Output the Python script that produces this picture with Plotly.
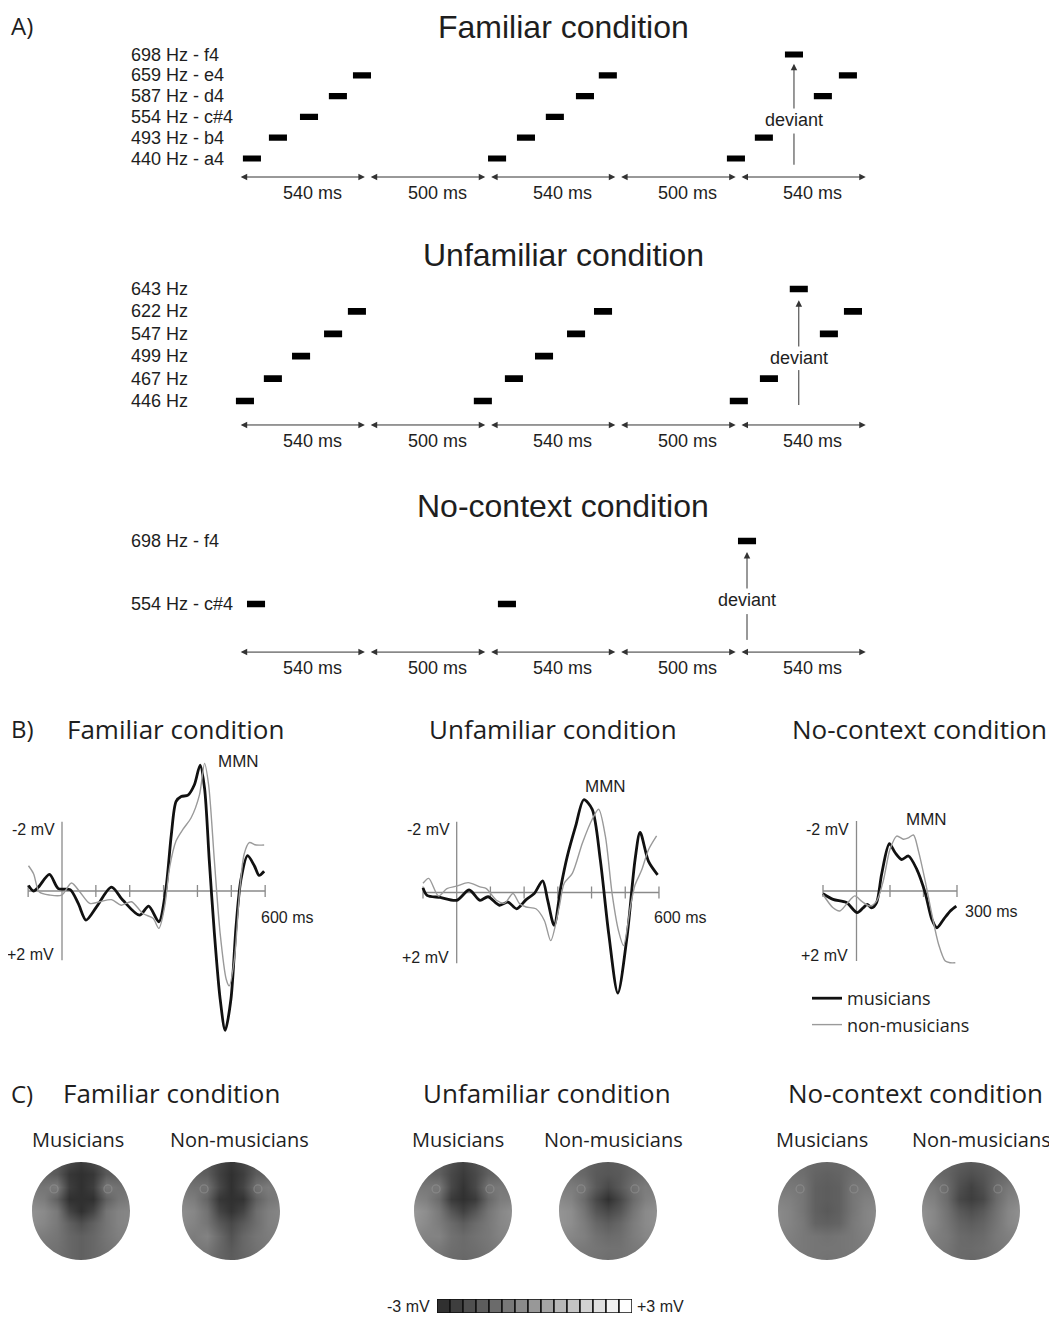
import plotly.graph_objects as go

W, H = 1057, 1318
OFF = 8                      # page body margin of the written html
FW, FH = W - OFF, H - OFF    # figure size so that pixel positions match the window

# ======================= DATA =======================
# ---- Part A: stimulus sequences
SEGMENT_MS = [540, 500, 540, 500, 540]
SEGMENT_LABELS = ["540 ms", "500 ms", "540 ms", "500 ms", "540 ms"]

FAM_ROW_IDS = [0, 1, 2, 3, 4, 5]
FAM_ROW_LABELS = ["440 Hz - a4", "493 Hz - b4", "554 Hz - c#4", "587 Hz - d4", "659 Hz - e4", "698 Hz - f4"]
FAM_TONE_MS = [62, 170, 299, 419, 519, 1080, 1200, 1320, 1445, 1540, 2072, 2188, 2313, 2433, 2537]
FAM_TONE_ROW = [0, 1, 2, 3, 4, 0, 1, 2, 3, 4, 0, 1, 5, 3, 4]
FAM_DEVIANT = 12

UNF_ROW_IDS = [0, 1, 2, 3, 4, 5]
UNF_ROW_LABELS = ["446 Hz", "467 Hz", "499 Hz", "547 Hz", "622 Hz", "643 Hz"]
UNF_TONE_MS = [33, 149, 266, 399, 498, 1021, 1150, 1275, 1408, 1520, 2084, 2209, 2333, 2458, 2558]
UNF_TONE_ROW = [0, 1, 2, 3, 4, 0, 1, 2, 3, 4, 0, 1, 5, 3, 4]
UNF_DEVIANT = 12

NOC_ROW_IDS = [2, 5]
NOC_ROW_LABELS = ["554 Hz - c#4", "698 Hz - f4"]
NOC_TONE_MS = [79, 1121, 2118]
NOC_TONE_ROW = [2, 2, 5]
NOC_DEVIANT = 2

# ---- Part B: ERP difference waves (time in ms, amplitude in mV, negative up)
FAM_MUS_T = [-99, -84, -70, -37, -11, 24, 48, 71, 102, 146, 180, 229, 256, 286, 306, 323, 337, 352,
             372, 391, 408, 421, 435, 450, 467, 482, 499, 514, 528, 548, 568, 582, 597]
FAM_MUS_V = [-0.16, 0.0, -0.11, -0.48, -0.07, -0.04, 0.36, 0.84, 0.46, -0.11, 0.27, 0.70, 0.44, 0.89,
             0.0, -1.64, -2.59, -2.73, -2.77, -3.07, -3.64, -2.97, -0.88, 1.22, 3.12, 4.03, 3.12, 1.03,
             -0.30, -1.02, -0.73, -0.45, -0.57]
FAM_NON_T = [-99, -84, -67, -35, -1, 28, 53, 82, 112, 146, 175, 205, 239, 269, 286, 303, 318, 337, 357,
             381, 406, 421, 433, 450, 467, 485, 494, 509, 524, 538, 553, 573, 597]
FAM_NON_V = [-0.73, -0.50, 0.03, 0.12, 0.12, -0.23, 0.03, 0.36, 0.31, 0.25, 0.41, 0.31, 0.65, 0.79, 1.08,
             0.46, -0.69, -1.45, -1.78, -2.11, -2.78, -3.69, -3.07, -0.88, 1.22, 2.55, 2.74, 1.98, 0.08,
             -1.07, -1.40, -1.33, -1.33]

UNF_MUS_T = [-100, -88, -49, 0, 37, 69, 93, 127, 152, 178, 206, 230, 255, 270, 289, 309, 328, 353, 377,
             402, 426, 451, 478, 505, 529, 544, 569, 596]
UNF_MUS_V = [-0.13, 0.08, 0.14, 0.22, -0.07, 0.22, 0.12, 0.36, 0.27, 0.46, 0.20, 0.03, -0.33, 0.22, 0.93,
             -0.16, -1.02, -1.88, -2.62, -2.35, -0.92, 1.17, 2.84, 1.27, -0.92, -1.70, -0.88, -0.50]
UNF_NON_T = [-100, -83, -54, -29, 0, 34, 69, 88, 118, 142, 167, 186, 206, 235, 260, 279, 304, 319, 343,
             373, 402, 421, 441, 461, 480, 495, 515, 529, 549, 569, 593]
UNF_NON_V = [-0.26, -0.40, 0.10, -0.11, -0.18, -0.28, -0.16, -0.11, 0.22, 0.30, 0.03, 0.31, 0.41, 0.46,
             0.79, 1.36, 0.41, -0.26, -0.54, -1.40, -2.07, -2.35, -1.59, 0.03, 1.08, 1.50, 0.41, -0.21,
             -0.64, -1.21, -1.60]

NOC_MUS_T = [-100, -70, -30, 2, 20, 32, 45, 60, 75, 98, 115, 135, 155, 180, 205, 225, 240, 260, 280, 298]
NOC_MUS_V = [0.08, 0.24, 0.33, 0.62, 0.48, 0.38, 0.48, 0.33, -0.48, -1.35, -1.10, -0.90, -1.00, -0.62,
             0.05, 0.81, 1.05, 0.81, 0.57, 0.43]
NOC_NON_T = [-100, -70, -50, -30, -5, 15, 40, 60, 80, 100, 120, 140, 155, 170, 185, 205, 225, 245, 265,
             280, 295]
NOC_NON_V = [0.10, 0.48, 0.57, 0.38, 0.14, 0.29, 0.43, 0.29, -0.29, -1.19, -1.57, -1.48, -1.52, -1.60,
             -1.14, -0.29, 0.67, 1.52, 2.00, 2.05, 2.05]

# ---- Part C: scalp maps (mV), 9x9 grids, rows top (frontal) -> bottom
GRID_POS = [-1.0, -0.75, -0.5, -0.25, 0.0, 0.25, 0.5, 0.75, 1.0]
TOPO_FAM_MUS = [
    [-1.7, -1.7, -1.8, -2.3, -2.7, -2.3, -1.8, -1.7, -1.7],
    [-1.5, -1.5, -1.8, -2.8, -3.0, -2.8, -1.8, -1.6, -1.6],
    [-1.0, -1.0, -0.8, -2.6, -3.0, -2.6, -0.9, -1.1, -1.2],
    [-0.6, -0.8, -1.6, -3.0, -3.0, -3.0, -1.6, -1.0, -0.8],
    [-0.2, -0.4, -0.9, -2.4, -3.0, -2.4, -1.0, -0.6, -0.5],
    [-0.3, -0.5, -0.9, -1.6, -2.1, -1.6, -1.0, -0.6, -0.5],
    [-0.7, -0.8, -1.0, -1.4, -1.6, -1.4, -1.0, -0.7, -0.7],
    [-0.9, -1.0, -1.1, -1.4, -1.6, -1.4, -1.1, -0.9, -0.9],
    [-1.1, -1.1, -1.2, -1.4, -1.6, -1.4, -1.2, -1.1, -1.1]]
TOPO_FAM_NON = [
    [-1.7, -1.7, -1.9, -2.4, -2.8, -2.4, -1.9, -1.7, -1.7],
    [-1.5, -1.5, -1.7, -2.5, -3.0, -2.6, -1.7, -1.5, -1.5],
    [-1.0, -1.1, -1.1, -2.3, -3.0, -2.4, -1.1, -0.8, -1.1],
    [-0.6, -0.8, -1.5, -2.8, -3.0, -2.9, -1.6, -1.0, -0.8],
    [-0.3, -0.5, -1.1, -2.4, -2.9, -2.4, -1.2, -0.7, -0.5],
    [-0.4, -0.6, -1.0, -1.8, -2.3, -1.8, -1.2, -0.7, -0.6],
    [-0.7, -0.8, -0.6, -1.3, -2.0, -1.4, -1.0, -0.8, -0.7],
    [-0.9, -0.9, -0.9, -1.4, -1.8, -1.4, -1.1, -0.9, -0.9],
    [-1.1, -1.1, -1.2, -1.5, -1.7, -1.5, -1.2, -1.1, -1.1]]
TOPO_UNF_MUS = [
    [-1.6, -1.6, -1.7, -2.1, -2.5, -2.1, -1.7, -1.6, -1.6],
    [-1.4, -1.4, -1.6, -2.3, -2.7, -2.3, -1.6, -1.4, -1.4],
    [-0.9, -0.9, -0.9, -2.3, -2.9, -2.3, -1.0, -0.9, -1.0],
    [-0.5, -0.7, -1.3, -2.7, -3.0, -2.7, -1.4, -0.8, -0.7],
    [0.0, -0.3, -0.9, -1.9, -2.5, -1.9, -1.0, -0.5, -0.2],
    [-0.1, -0.4, -0.8, -1.3, -1.7, -1.3, -0.9, -0.5, -0.3],
    [-0.5, -0.6, -0.6, -1.1, -1.3, -1.1, -0.9, -0.6, -0.5],
    [-0.8, -0.8, -0.9, -1.2, -1.3, -1.2, -1.0, -0.8, -0.8],
    [-1.0, -1.0, -1.1, -1.3, -1.4, -1.3, -1.1, -1.0, -1.0]]
TOPO_UNF_NON = [
    [-1.4, -1.4, -1.5, -1.7, -1.8, -1.7, -1.5, -1.4, -1.4],
    [-1.2, -1.2, -1.4, -1.8, -1.9, -1.8, -1.4, -1.2, -1.2],
    [-0.8, -0.8, -1.0, -1.8, -2.3, -1.8, -1.1, -0.8, -0.9],
    [-0.4, -0.6, -1.3, -2.3, -3.0, -2.3, -1.3, -0.7, -0.5],
    [-0.1, -0.3, -1.0, -1.9, -2.3, -1.9, -1.0, -0.4, -0.2],
    [-0.1, -0.3, -0.8, -1.4, -1.7, -1.4, -0.8, -0.4, -0.2],
    [-0.4, -0.5, -0.7, -1.1, -1.3, -1.2, -0.8, -0.5, -0.4],
    [-0.7, -0.8, -0.9, -1.0, -1.1, -1.1, -0.9, -0.8, -0.7],
    [-0.9, -0.9, -1.0, -1.1, -1.2, -1.1, -1.0, -0.9, -0.9]]
TOPO_NOC_MUS = [
    [-1.2, -1.2, -1.3, -1.4, -1.4, -1.4, -1.3, -1.2, -1.2],
    [-1.1, -1.1, -1.2, -1.5, -1.6, -1.5, -1.2, -1.1, -1.1],
    [-0.9, -0.9, -1.0, -1.6, -1.7, -1.6, -1.0, -0.9, -0.9],
    [-0.6, -0.7, -1.0, -1.6, -1.7, -1.6, -1.0, -0.7, -0.6],
    [-0.4, -0.6, -1.0, -1.6, -1.8, -1.6, -1.0, -0.6, -0.4],
    [-0.4, -0.6, -0.9, -1.5, -1.6, -1.5, -0.9, -0.6, -0.4],
    [-0.6, -0.7, -0.9, -1.0, -1.1, -1.0, -0.9, -0.7, -0.6],
    [-0.8, -0.8, -0.9, -1.0, -1.0, -1.0, -0.9, -0.8, -0.8],
    [-0.9, -0.9, -1.0, -1.0, -1.1, -1.0, -1.0, -0.9, -0.9]]
TOPO_NOC_NON = [
    [-1.4, -1.4, -1.5, -1.7, -1.8, -1.7, -1.5, -1.4, -1.4],
    [-1.2, -1.3, -1.5, -1.9, -2.1, -1.9, -1.5, -1.3, -1.2],
    [-0.8, -0.9, -1.3, -2.1, -2.5, -2.1, -1.3, -0.9, -0.8],
    [-0.5, -0.7, -1.3, -2.3, -2.6, -2.3, -1.3, -0.7, -0.5],
    [-0.2, -0.5, -1.1, -1.8, -2.1, -1.8, -1.1, -0.5, -0.2],
    [-0.2, -0.5, -1.0, -1.5, -1.7, -1.5, -1.0, -0.5, -0.3],
    [-0.5, -0.7, -0.9, -1.3, -1.4, -1.3, -0.9, -0.7, -0.6],
    [-0.8, -0.8, -1.0, -1.3, -1.3, -1.2, -1.0, -0.8, -0.8],
    [-1.0, -1.0, -1.1, -1.3, -1.4, -1.3, -1.1, -1.0, -1.0]]
ELECTRODE_X = [-0.55, 0.55]
ELECTRODE_Y = [0.45, 0.45]

CB_LEVELS_MV = [-3.0, -2.6, -2.1, -1.7, -1.3, -0.9, -0.4, 0.0, 0.4, 0.9, 1.3, 1.7, 2.1, 2.6, 3.0]

# ======================= STYLE / LAYOUT =======================
ARIAL = "Liberation Sans, Arial, sans-serif"
OPEN = "Open Sans, sans-serif"
TXT = "#1e1e1e"
TONE_LEN_MS = 75
GRAY_LO, GRAY_HI = 48, 255


def gray(v):
    g = int(round(GRAY_LO + (v + 3.0) / 6.0 * (GRAY_HI - GRAY_LO)))
    g = max(0, min(255, g))
    return f"rgb({g},{g},{g})"


COLORSCALE = [[0.0, gray(-3.0)], [1.0, gray(3.0)]]

fig = go.Figure()
annos = []
shapes = []
_n = [0]


def px_x(px):
    return (px - OFF) / FW


def px_y(py):
    return 1 - (py - OFF) / FH


def xdom(l, r):
    return [max(0, px_x(l)), min(1, px_x(r))]


def ydom(top, bottom):
    return [max(0, px_y(bottom)), min(1, px_y(top))]


def new_axes(xd, yd, xr, yr):
    _n[0] += 1
    k = _n[0]
    s = "" if k == 1 else str(k)
    fig.layout["xaxis" + s] = dict(domain=xd, range=xr, visible=False, anchor="y" + s, fixedrange=True)
    fig.layout["yaxis" + s] = dict(domain=yd, range=yr, visible=False, anchor="x" + s, fixedrange=True)
    return "x" + s, "y" + s


def paper_text(text, xpx, ypx, size, family, xanchor="center", color=TXT, yanchor="middle"):
    annos.append(dict(text=text, x=px_x(xpx), y=px_y(ypx), xref="paper", yref="paper",
                      xanchor=xanchor, yanchor=yanchor, showarrow=False, borderpad=0,
                      font=dict(size=size, family=family, color=color)))


# ---------- Part A ----------
paper_text("A)", 10, 8, 24, OPEN, xanchor="left", yanchor="top")
SCH_X0_PX, SCH_PX_PER_MS = 237.0, 0.2408
SCH_XR = [-50, 2670]
sch_panels = [
    dict(title="Familiar condition", title_y=22, row0=158.5, sp=20.8, yr=[-2.0, 6.0],
         ids=FAM_ROW_IDS, labels=FAM_ROW_LABELS, t=FAM_TONE_MS, r=FAM_TONE_ROW, dev=FAM_DEVIANT,
         arrow_row=-0.89, dev_text=1.85, dev_low=(-0.3, 1.2), dev_tip=4.55),
    dict(title="Unfamiliar condition", title_y=255, row0=401.0, sp=22.4, yr=[-2.0, 6.0],
         ids=UNF_ROW_IDS, labels=UNF_ROW_LABELS, t=UNF_TONE_MS, r=UNF_TONE_ROW, dev=UNF_DEVIANT,
         arrow_row=-1.07, dev_text=1.92, dev_low=(-0.18, 1.38), dev_tip=4.5),
    dict(title="No-context condition", title_y=506, row0=646.0, sp=21.0, yr=[-1.5, 6.0],
         ids=NOC_ROW_IDS, labels=NOC_ROW_LABELS, t=NOC_TONE_MS, r=NOC_TONE_ROW, dev=NOC_DEVIANT,
         arrow_row=-0.29, dev_text=2.19, dev_low=(0.29, 1.52), dev_tip=4.48),
]
bounds = [0]
for s in SEGMENT_MS:
    bounds.append(bounds[-1] + s)

for pi, p in enumerate(sch_panels):
    xd = xdom(SCH_X0_PX + SCH_XR[0] * SCH_PX_PER_MS, SCH_X0_PX + SCH_XR[1] * SCH_PX_PER_MS)
    yd = ydom(p["row0"] - p["yr"][1] * p["sp"], p["row0"] - p["yr"][0] * p["sp"])
    xa, ya = new_axes(xd, yd, SCH_XR, p["yr"])
    if pi == 0:
        paper_text(p["title"], 563, 8, 32, ARIAL, yanchor="top")
    else:
        paper_text(p["title"], 563, p["title_y"], 32, ARIAL)
    fig.add_trace(go.Bar(orientation="h", y=p["r"], x=[TONE_LEN_MS] * len(p["t"]),
                         base=[t - TONE_LEN_MS / 2 for t in p["t"]], width=0.3,
                         marker=dict(color="black", line=dict(width=0)),
                         xaxis=xa, yaxis=ya, showlegend=False, hoverinfo="skip"))
    for rid, lab in zip(p["ids"], p["labels"]):
        annos.append(dict(text=lab, x=px_x(129), xref="paper", y=rid, yref=ya, xanchor="left",
                          yanchor="middle", showarrow=False,
                          font=dict(size=18, family=ARIAL, color=TXT)))
    ar = p["arrow_row"]
    for i, lab in enumerate(SEGMENT_LABELS):
        s0, s1 = bounds[i], bounds[i + 1]
        annos.append(dict(text="", x=s1 - 9, y=ar, ax=s0 + 9, ay=ar, xref=xa, yref=ya, axref=xa,
                          ayref=ya, showarrow=True, arrowside="end+start", arrowhead=2,
                          arrowsize=1.3, arrowwidth=1, arrowcolor="#333"))
        annos.append(dict(text=lab, x=(s0 + s1) / 2, y=ar, xref=xa, yref=ya, showarrow=False,
                          xshift=10, yshift=-16, yanchor="middle",
                          font=dict(size=18, family=ARIAL, color=TXT)))
    tdev = p["t"][p["dev"]]
    annos.append(dict(text="deviant", x=tdev, y=p["dev_tip"], ax=tdev, ay=p["dev_text"],
                      xref=xa, yref=ya, axref=xa, ayref=ya, showarrow=True, arrowhead=2,
                      arrowsize=1.3, arrowwidth=1, arrowcolor="#333", standoff=0,
                      font=dict(size=18, family=ARIAL, color=TXT)))
    shapes.append(dict(type="line", xref=xa, yref=ya, x0=tdev, x1=tdev,
                       y0=p["dev_low"][0], y1=p["dev_low"][1], line=dict(color="#333", width=1)))

# ---------- Part B ----------
paper_text("B)", 10, 729, 24, OPEN, xanchor="left")
erp_panels = [
    dict(title="Familiar condition", tcx=175, t0=62.0, pxms=0.3386, zero=891.0, pxmv=34.6,
         xr=[-115, 625], ticks=[-100, 100, 200, 300, 400, 500, 600], end=600, endlab="600 ms",
         endshift=(-6, -26), mmn=(520, -3.73),
         mus=(FAM_MUS_T, FAM_MUS_V), non=(FAM_NON_T, FAM_NON_V)),
    dict(title="Unfamiliar condition", tcx=553, t0=456.7, pxms=0.3371, zero=892.5, pxmv=35.4,
         xr=[-115, 625], ticks=[-100, 100, 200, 300, 400, 500, 600], end=600, endlab="600 ms",
         endshift=(-7, -25), mmn=(440, -3.0),
         mus=(UNF_MUS_T, UNF_MUS_V), non=(UNF_NON_T, UNF_NON_V)),
    dict(title="No-context condition", tcx=919, t0=856.5, pxms=0.335, zero=891.0, pxmv=35.0,
         xr=[-115, 325], ticks=[-100, 100, 200, 300], end=300, endlab="300 ms",
         endshift=(6, -20), mmn=(210, -2.03),
         mus=(NOC_MUS_T, NOC_MUS_V), non=(NOC_NON_T, NOC_NON_V)),
]
YR = 4.6
for j, p in enumerate(erp_panels):
    xd = xdom(p["t0"] + p["xr"][0] * p["pxms"], p["t0"] + p["xr"][1] * p["pxms"])
    yd = ydom(p["zero"] - YR * p["pxmv"], p["zero"] + YR * p["pxmv"])
    xa, ya = new_axes(xd, yd, p["xr"], [YR, -YR])
    paper_text(p["title"], p["tcx"], 729, 26, OPEN)
    axc = "#8a8a8a"
    shapes.append(dict(type="line", xref=xa, yref=ya, x0=-100, x1=p["end"], y0=0, y1=0,
                       line=dict(color=axc, width=1.3), layer="below"))
    shapes.append(dict(type="line", xref=xa, yref=ya, x0=0, x1=0, y0=-2, y1=2,
                       line=dict(color=axc, width=1.3), layer="below"))
    for tk in p["ticks"]:
        shapes.append(dict(type="line", xref=xa, yref=ya, x0=tk, x1=tk, y0=-0.17, y1=0.17,
                           line=dict(color=axc, width=1.3), layer="below"))
    fig.add_trace(go.Scatter(x=p["mus"][0], y=p["mus"][1], mode="lines",
                             line=dict(color="#111111", width=2.8, shape="spline", smoothing=0.8),
                             name="musicians", showlegend=(j == 0),
                             xaxis=xa, yaxis=ya, hoverinfo="skip"))
    fig.add_trace(go.Scatter(x=p["non"][0], y=p["non"][1], mode="lines",
                             line=dict(color="#9a9a9a", width=1.4, shape="spline", smoothing=0.8),
                             name="non-musicians", showlegend=(j == 0),
                             xaxis=xa, yaxis=ya, hoverinfo="skip"))
    annos.append(dict(text="-2 mV", x=0, y=-2, xref=xa, yref=ya, xanchor="right", yanchor="middle",
                      xshift=-5, yshift=-8, showarrow=False, font=dict(size=16, family=ARIAL, color=TXT)))
    annos.append(dict(text="+2 mV", x=0, y=2, xref=xa, yref=ya, xanchor="right", yanchor="middle",
                      xshift=-6, yshift=6, showarrow=False, font=dict(size=16, family=ARIAL, color=TXT)))
    annos.append(dict(text=p["endlab"], x=p["end"], y=0, xref=xa, yref=ya, xanchor="left",
                      yanchor="middle", xshift=p["endshift"][0], yshift=p["endshift"][1],
                      showarrow=False, font=dict(size=16, family=ARIAL, color=TXT)))
    annos.append(dict(text="MMN", x=p["mmn"][0], y=p["mmn"][1], xref=xa, yref=ya,
                      showarrow=False, font=dict(size=17, family=ARIAL, color=TXT)))

# ---------- Part C ----------
paper_text("C)", 10, 1093, 24, OPEN, xanchor="left")
C_TITLES = [("Familiar condition", 171), ("Unfamiliar condition", 547), ("No-context condition", 915)]
for t, cx in C_TITLES:
    paper_text(t, cx, 1093, 26, OPEN)
topo_maps = [
    ("Musicians", 78, 81, TOPO_FAM_MUS), ("Non-musicians", 239, 231, TOPO_FAM_NON),
    ("Musicians", 458, 463, TOPO_UNF_MUS), ("Non-musicians", 613, 608, TOPO_UNF_NON),
    ("Musicians", 822, 827, TOPO_NOC_MUS), ("Non-musicians", 981, 971, TOPO_NOC_NON),
]
R_PX, CY = 49.0, 1211.0
k = 0.5523
circle_hole = ("M -1.2 -1.2 L 1.2 -1.2 L 1.2 1.2 L -1.2 1.2 Z "
               f"M 1 0 C 1 {k}, {k} 1, 0 1 C {-k} 1, -1 {k}, -1 0 "
               f"C -1 {-k}, {-k} -1, 0 -1 C {k} -1, 1 {-k}, 1 0 Z")
for lab, lcx, cx, grid in topo_maps:
    paper_text(lab, lcx, 1139, 20, OPEN)
    xa, ya = new_axes(xdom(cx - R_PX, cx + R_PX), ydom(CY - R_PX, CY + R_PX), [-1, 1], [-1, 1])
    fig.add_trace(go.Heatmap(z=grid, x=GRID_POS, y=[-g for g in GRID_POS], zmin=-3, zmax=3,
                             colorscale=COLORSCALE, showscale=False, zsmooth="best",
                             xaxis=xa, yaxis=ya, hoverinfo="skip"))
    fig.add_trace(go.Scatter(x=ELECTRODE_X, y=ELECTRODE_Y, mode="markers",
                             marker=dict(symbol="circle-open", size=8, color="rgba(150,150,150,0.55)",
                                         line=dict(width=1.3)),
                             xaxis=xa, yaxis=ya, showlegend=False, hoverinfo="skip"))
    shapes.append(dict(type="path", xref=xa, yref=ya, path=circle_hole, fillcolor="white",
                       fillrule="evenodd", line=dict(width=0), layer="above"))

# colour key
xa, ya = new_axes(xdom(437, 632), ydom(1299, 1313), [-0.5, len(CB_LEVELS_MV) - 0.5], [0, 1])
fig.add_trace(go.Bar(x=list(range(len(CB_LEVELS_MV))), y=[1] * len(CB_LEVELS_MV), width=1,
                     marker=dict(color=[gray(v) for v in CB_LEVELS_MV],
                                 line=dict(color="#111", width=1.5)),
                     xaxis=xa, yaxis=ya, showlegend=False, hoverinfo="skip"))
paper_text("-3 mV", 431, 1306, 16, ARIAL, xanchor="right")
paper_text("+3 mV", 636, 1306, 16, ARIAL, xanchor="left")

fig.update_layout(
    width=FW, height=FH, margin=dict(l=0, r=0, t=0, b=0),
    paper_bgcolor="white", plot_bgcolor="rgba(0,0,0,0)",
    annotations=annos, shapes=shapes, barmode="overlay",
    legend=dict(x=px_x(807), y=px_y(980), xanchor="left", yanchor="top",
                font=dict(family=OPEN, size=18, color=TXT), bgcolor="rgba(0,0,0,0)",
                itemwidth=30, tracegroupgap=0),
)
fig.write_html("out.html")
